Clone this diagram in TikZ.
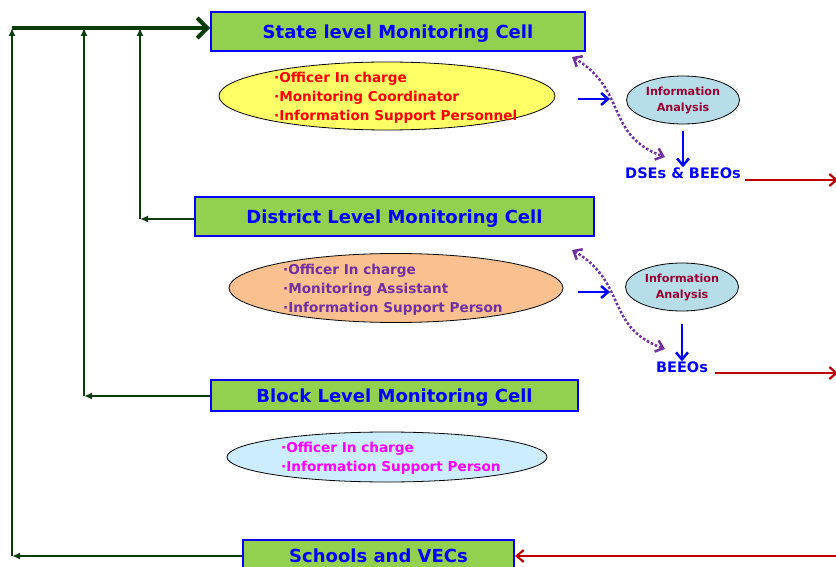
\documentclass[tikz,border=0pt]{standalone}
\usepackage{fontspec}
\setmainfont{DejaVu Sans}
\usetikzlibrary{shapes.geometric,arrows.meta}
\definecolor{cellgreen}{RGB}{146,208,80}
\definecolor{cellblue}{RGB}{0,0,255}
\definecolor{linkgreen}{RGB}{12,60,12}
\definecolor{roleyellow}{RGB}{255,255,102}
\definecolor{rolepeach}{RGB}{250,192,144}
\definecolor{rolesky}{RGB}{204,236,255}
\definecolor{rolepink}{RGB}{255,0,255}
\definecolor{rolered}{RGB}{255,0,0}
\definecolor{infofill}{RGB}{183,222,232}
\definecolor{infotext}{RGB}{153,0,51}
\definecolor{rolepurple}{RGB}{112,48,160}
\definecolor{reportred}{RGB}{192,0,0}
\tikzset{
  cell/.style={draw=cellblue, line width=2, fill=cellgreen, text=cellblue,
    font=\bfseries\fontsize{18}{21}\selectfont, inner sep=0, text depth=0pt},
  roles/.style={ellipse, draw, line width=0.8, inner sep=0},
  rolelist/.style={anchor=west, align=left, inner sep=0,
    font=\bfseries\fontsize{13.6}{19}\selectfont},
  info/.style={ellipse, draw, line width=0.8, fill=infofill, text=infotext,
    minimum width=113, minimum height=48, inner sep=0, align=center,
    font=\bfseries\fontsize{11.2}{16}\selectfont},
  who/.style={text=cellblue, font=\bfseries\fontsize{14.5}{17}\selectfont, inner sep=0},
  feed/.style={draw=linkgreen, line width=2, -{Latex[length=8,width=7]}},
  pass/.style={draw=cellblue, line width=2.5, -{Straight Barb[length=7,width=12]}},
  report/.style={draw=reportred, line width=2.2, -{Straight Barb[length=7,width=12]}},
  consult/.style={draw=rolepurple, line width=2.5, dotted,
    {Straight Barb[length=7,width=12]}-{Straight Barb[length=7,width=12]}}
}
\begin{document}
\begin{tikzpicture}[x=1pt,y=-1pt]
\useasboundingbox (0,0) rectangle (836,567);

% the four cells
\node [cell, minimum width=374, minimum height=39] (state) at (398,31.5) {State level Monitoring Cell};
\node [cell, minimum width=399, minimum height=39] (district) at (394.5,216.5) {District Level Monitoring Cell};
\node [cell, minimum width=367, minimum height=31] (block) at (394.5,395.5) {Block Level Monitoring Cell};
\node [cell, minimum width=271, minimum height=32] (schools) at (378.5,556) {Schools and VECs};

% who sits in each cell
\node [roles, fill=roleyellow, minimum width=336, minimum height=68] (staterole) at (387,96) {};
\node [rolelist, text=rolered] (statelist) at (274,98)
  {·Officer In charge\\·Monitoring Coordinator\\·Information Support Personnel};
\node [roles, fill=rolepeach, minimum width=334, minimum height=69] (distrole) at (396,288) {};
\node [rolelist, text=rolepurple] (distlist) at (283,290)
  {·Officer In charge\\·Monitoring Assistant\\·Information Support Person};
\node [roles, fill=rolesky, minimum width=320, minimum height=50] (blockrole) at (387,457) {};
\node [rolelist, text=rolepink] (blocklist) at (281,458)
  {·Officer In charge\\·Information Support Person};

% analysis on the right
\node [info] (stateinfo) at (683,100) {Information\\Analysis};
\node [info] (distinfo) at (682,287) {Information\\Analysis};
\node [who] (dse) at (683,173) {DSEs \& BEEOs};
\node [who] (beeo) at (682,367) {BEEOs};

\coordinate (sin) at (578,99);
\coordinate (din) at (578,292);
\coordinate (sdown) at (683,131);
\coordinate (ddown) at (682,324);
\draw [pass] (sin) -- (610,99);
\draw [pass] (din) -- (610,292);
\draw [pass] (sdown) -- (dse.north);
\draw [pass] (ddown) -- (beeo.north);

\coordinate (sq) at (572,57);
\coordinate (sa) at (665,157);
\coordinate (dq) at (572,250);
\coordinate (da) at (665,349);
\draw [consult] (sq) to [out=-30, in=160, looseness=1.2] (sa);
\draw [consult] (dq) to [out=-30, in=160, looseness=1.2] (da);

% reports going out
\coordinate (dseout) at (838,180);
\coordinate (beeoout) at (838,373);
\coordinate (back) at (850,556);
\draw [report] (745,180) -- (dseout);
\draw [report] (715,373) -- (beeoout);
\draw [report] (back) -- (schools.east);

% feedback lines to the state cell
\coordinate (top) at (12,28);
\coordinate (dtop) at (140,28);
\coordinate (btop) at (84,28);
\coordinate (dcorner) at (140,219);
\coordinate (bcorner) at (84,396);
\coordinate (scorner) at (12,556);
\draw [feed] (district.west |- dcorner) -- (dcorner);
\draw [feed] (dcorner) -- (dtop);
\draw [feed] (block.west |- bcorner) -- (bcorner);
\draw [feed] (bcorner) -- (btop);
\draw [feed] (schools.west |- scorner) -- (scorner);
\draw [feed] (scorner) -- (top);
\draw [draw=linkgreen, line width=4, -{Straight Barb[length=10,width=20]}] (top) -- (state.west |- top);
\end{tikzpicture}
\end{document}
